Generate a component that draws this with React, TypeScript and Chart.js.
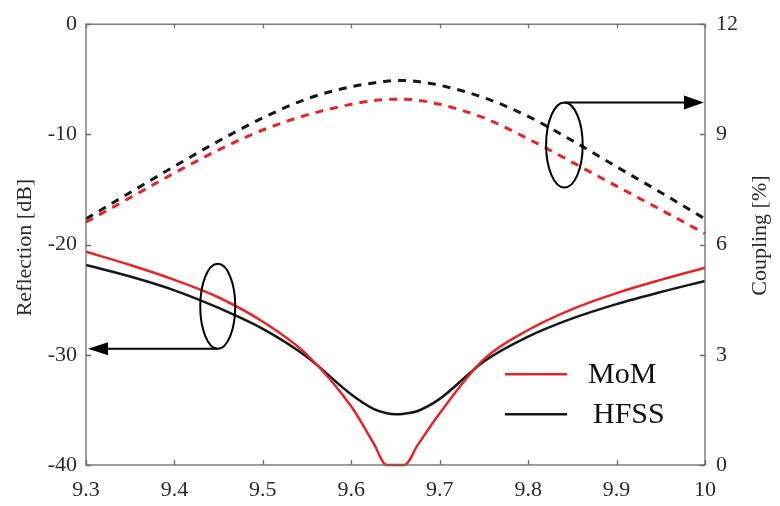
import React, { useEffect, useRef } from "react";
import { Chart, registerables } from "chart.js";

Chart.register(...registerables);

// ---------- data ----------
const freq = [9.3, 9.35, 9.4, 9.45, 9.5, 9.55, 9.6, 9.625, 9.64, 9.65, 9.66, 9.675, 9.7, 9.75, 9.8, 9.85, 9.9, 9.95, 10.0];
const momReflection = [-20.65, -21.85, -23.2, -24.8, -27.0, -30.0, -34.7, -38.0, -40, -40, -40, -38.2, -35.3, -30.4, -27.75, -25.85, -24.4, -23.2, -22.1];
const hfssReflection = [-21.85, -22.9, -24.15, -25.75, -27.65, -30.2, -33.6, -34.9, -35.3, -35.4, -35.35, -35.1, -34.0, -30.6, -28.35, -26.7, -25.4, -24.3, -23.3];
const momCoupling = [6.61, 7.28, 7.95, 8.58, 9.12, 9.53, 9.82, 9.92, 9.95, 9.96, 9.96, 9.93, 9.82, 9.45, 8.88, 8.24, 7.59, 6.95, 6.3];
const hfssCoupling = [6.7, 7.42, 8.13, 8.82, 9.45, 9.97, 10.3, 10.4, 10.45, 10.47, 10.47, 10.44, 10.34, 10.0, 9.49, 8.83, 8.12, 7.42, 6.7];

const xTicks = [9.3, 9.4, 9.5, 9.6, 9.7, 9.8, 9.9, 10];
const leftTicks = [-40, -30, -20, -10, 0];
const rightTicks = [0, 3, 6, 9, 12];

const seriesLabels = ["MoM", "HFSS"];
const leftTitle = "Reflection [dB]";
const rightTitle = "Coupling [%]";

// annotation anchors (data coordinates)
const reflEllipse = [9.449, -25.6]; // on left axis
const coupEllipse = [9.841, 8.71]; // on right axis

const RED = "#e3262a";
const BLACK = "#161616";
const TEXT = "#2a2a2a";
const AXIS = "#6a6a6a";
const FONT = "'Liberation Serif', 'Times New Roman', serif";

const pts = (ys: number[]) => freq.map((f, i) => ({ x: f, y: ys[i] }));
const fmt = (v: number) => String(Number(Number(v).toFixed(1)));

const framePlugin = {
  id: "framePlugin",
  afterDatasetsDraw(chart: any) {
    const { ctx, chartArea: a, scales } = chart;
    const xs = scales.x;
    const yl = scales.y;
    const yr = scales.y1;
    ctx.save();

    // box
    ctx.strokeStyle = AXIS;
    ctx.lineWidth = 1.3;
    ctx.strokeRect(a.left, a.top, a.width, a.height);

    // inward ticks
    ctx.beginPath();
    xTicks.forEach((v) => {
      const px = Math.round(xs.getPixelForValue(v)) + 0.5;
      ctx.moveTo(px, a.bottom);
      ctx.lineTo(px, a.bottom - 5);
      ctx.moveTo(px, a.top);
      ctx.lineTo(px, a.top + 4);
    });
    leftTicks.forEach((v) => {
      const py = Math.round(yl.getPixelForValue(v)) + 0.5;
      ctx.moveTo(a.left, py);
      ctx.lineTo(a.left + 5, py);
    });
    rightTicks.forEach((v) => {
      const py = Math.round(yr.getPixelForValue(v)) + 0.5;
      ctx.moveTo(a.right, py);
      ctx.lineTo(a.right - 5, py);
    });
    ctx.stroke();

    // ellipses and arrows
    ctx.strokeStyle = "#000";
    ctx.fillStyle = "#000";
    ctx.lineWidth = 2;
    const rx = 17.5;
    const ry = 42.5;

    const e1x = xs.getPixelForValue(reflEllipse[0]);
    const e1y = yl.getPixelForValue(reflEllipse[1]);
    ctx.beginPath();
    ctx.ellipse(e1x, e1y, rx, ry, 0, 0, Math.PI * 2);
    ctx.stroke();
    const a1y = e1y + ry;
    ctx.beginPath();
    ctx.moveTo(e1x, a1y);
    ctx.lineTo(a.left + 18, a1y);
    ctx.stroke();
    ctx.beginPath();
    ctx.moveTo(a.left + 2, a1y);
    ctx.lineTo(a.left + 22, a1y - 6.5);
    ctx.lineTo(a.left + 22, a1y + 6.5);
    ctx.closePath();
    ctx.fill();

    const e2x = xs.getPixelForValue(coupEllipse[0]);
    const e2y = yr.getPixelForValue(coupEllipse[1]);
    ctx.beginPath();
    ctx.ellipse(e2x, e2y, rx + 0.8, ry, 0, 0, Math.PI * 2);
    ctx.stroke();
    const a2y = e2y - ry;
    ctx.beginPath();
    ctx.moveTo(e2x, a2y);
    ctx.lineTo(a.right - 18, a2y);
    ctx.stroke();
    ctx.beginPath();
    ctx.moveTo(a.right - 1, a2y);
    ctx.lineTo(a.right - 21, a2y - 7);
    ctx.lineTo(a.right - 21, a2y + 7);
    ctx.closePath();
    ctx.fill();

    // legend
    const ds = chart.data.datasets;
    const lx0 = a.left + 419;
    const lx1 = a.left + 481;
    const rows = [a.top + 350, a.top + 390];
    ctx.font = `30px ${FONT}`;
    ctx.textAlign = "left";
    ctx.textBaseline = "alphabetic";
    [0, 1].forEach((i) => {
      ctx.strokeStyle = ds[i].borderColor;
      ctx.lineWidth = 2.5;
      ctx.beginPath();
      ctx.moveTo(lx0, rows[i]);
      ctx.lineTo(lx1, rows[i]);
      ctx.stroke();
      ctx.fillStyle = "#111";
      ctx.fillText(ds[i].label, lx1 + 21 + i * 5, rows[i] + 9);
    });

    // axis titles (reading bottom to top)
    ctx.fillStyle = TEXT;
    ctx.font = `22px ${FONT}`;
    ctx.textAlign = "center";
    ctx.textBaseline = "middle";
    const cy = (a.top + a.bottom) / 2;
    ctx.save();
    ctx.translate(a.left - 61, cy + 3);
    ctx.rotate(-Math.PI / 2);
    ctx.fillText(leftTitle, 0, 0);
    ctx.restore();
    ctx.save();
    ctx.translate(a.right + 55, cy - 9);
    ctx.rotate(-Math.PI / 2);
    ctx.fillText(rightTitle, 0, 0);
    ctx.restore();

    ctx.restore();
  },
};

export default function App() {
  const ref = useRef<HTMLCanvasElement | null>(null);

  useEffect(() => {
    document.body.style.margin = "0";
    const canvas = ref.current;
    if (!canvas) return;
    const tickFont = { family: FONT, size: 22 };
    const line = (label: string, ys: number[], color: string, axis: string, dashed: boolean) => ({
      label,
      data: pts(ys),
      borderColor: color,
      borderWidth: dashed ? 3 : 2.5,
      borderDash: dashed ? [8, 7] : [],
      pointRadius: 0,
      cubicInterpolationMode: "monotone",
      yAxisID: axis,
      clip: 4,
    });
    const chart = new Chart(canvas, {
      type: "line",
      data: {
        datasets: [
          line(seriesLabels[0], momReflection, RED, "y", false),
          line(seriesLabels[1], hfssReflection, BLACK, "y", false),
          line(seriesLabels[0] + " coupling", momCoupling, RED, "y1", true),
          line(seriesLabels[1] + " coupling", hfssCoupling, BLACK, "y1", true),
        ],
      },
      options: {
        animation: false,
        responsive: false,
        maintainAspectRatio: false,
        layout: { padding: { top: 17, left: 0, right: 0, bottom: 0 } },
        plugins: { legend: { display: false }, tooltip: { enabled: false } },
        scales: {
          x: {
            type: "linear",
            position: "bottom",
            min: 9.3,
            max: 10,
            afterBuildTicks: (s: any) => {
              s.ticks = xTicks.map((v) => ({ value: v }));
            },
            afterFit: (s: any) => {
              s.height = 41;
            },
            grid: { display: false, drawTicks: false },
            border: { display: false },
            ticks: {
              font: tickFont,
              color: TEXT,
              padding: 12,
              maxRotation: 0,
              autoSkip: false,
              callback: (v: any) => fmt(v),
            },
          },
          y: {
            type: "linear",
            position: "left",
            min: -40,
            max: 0,
            afterBuildTicks: (s: any) => {
              s.ticks = leftTicks.map((v) => ({ value: v }));
            },
            afterFit: (s: any) => {
              s.width = 86;
            },
            grid: { display: false, drawTicks: false },
            border: { display: false },
            ticks: { font: tickFont, color: TEXT, padding: 9, callback: (v: any) => fmt(v) },
          },
          y1: {
            type: "linear",
            position: "right",
            min: 0,
            max: 12,
            afterBuildTicks: (s: any) => {
              s.ticks = rightTicks.map((v) => ({ value: v }));
            },
            afterFit: (s: any) => {
              s.width = 75;
            },
            grid: { display: false, drawTicks: false },
            border: { display: false },
            ticks: { font: tickFont, color: TEXT, padding: 11, callback: (v: any) => fmt(v) },
          },
        },
      },
      plugins: [framePlugin],
    } as any);
    return () => chart.destroy();
  }, []);

  return (
    <div style={{ width: 780, height: 506, background: "#fff" }}>
      <canvas ref={ref} width={780} height={506} style={{ display: "block", width: 780, height: 506 }} />
    </div>
  );
}
